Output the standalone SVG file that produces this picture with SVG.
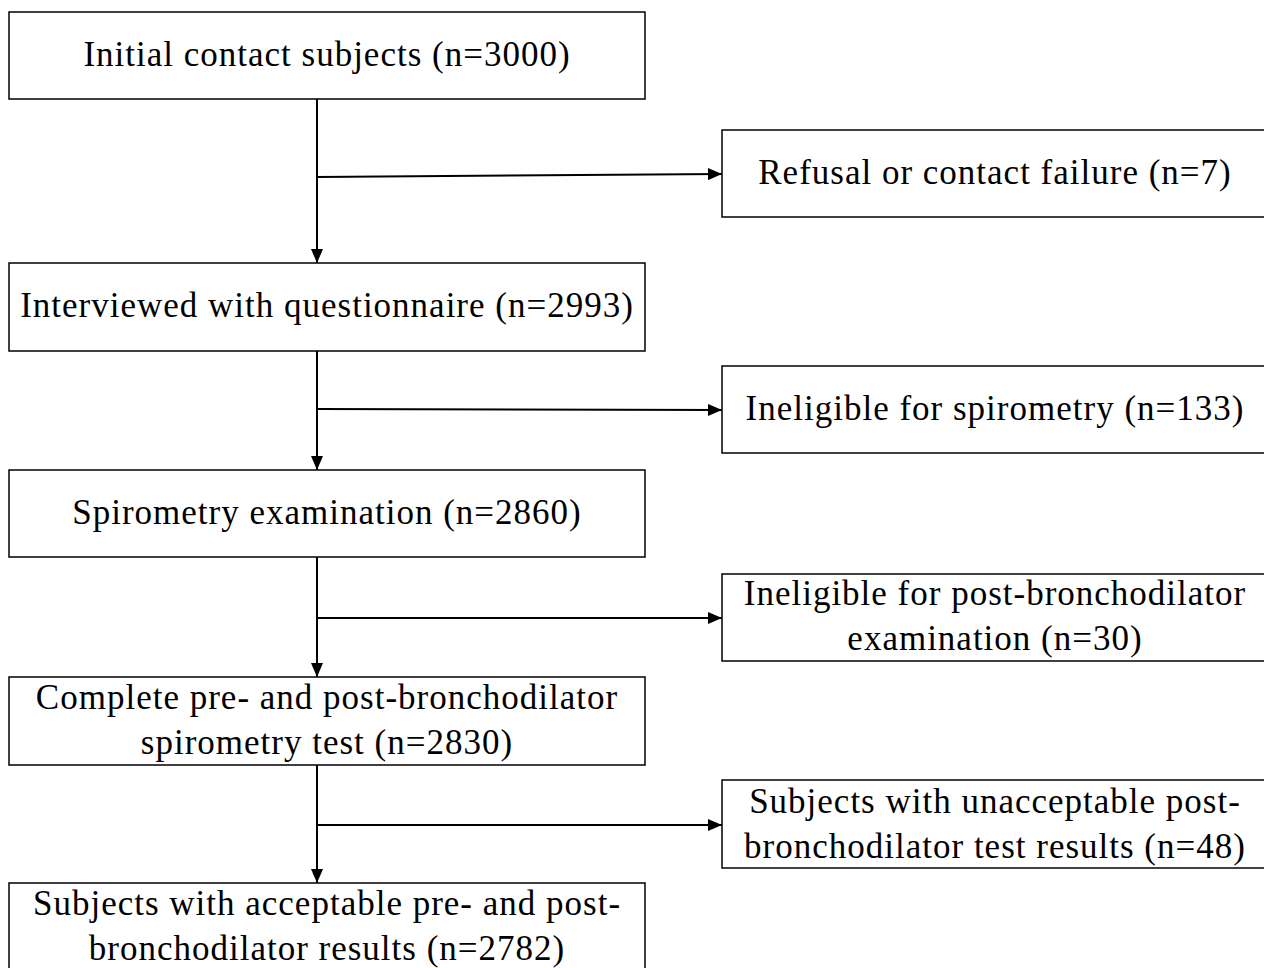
<svg xmlns="http://www.w3.org/2000/svg" width="1264" height="968" viewBox="0 0 1264 968">
<defs>
<marker id="ah" viewBox="0 0 14 12" refX="14" refY="6" markerWidth="14" markerHeight="12" markerUnits="userSpaceOnUse" orient="auto">
<path d="M0,0 L14,6 L0,12 Z" fill="#000"/>
</marker>
<style>
.box{fill:#fff;stroke:#000;stroke-width:1.5}
.t{font-family:"Liberation Serif","Times New Roman",serif;font-size:35px;letter-spacing:1px;fill:#000;text-anchor:middle}
.c{stroke:#000;stroke-width:2;fill:none}
</style>
</defs>
<rect width="1264" height="968" fill="#fff"/>
<g id="n1"><rect class="box" x="9" y="12" width="636" height="87"/><text class="t" x="327" y="66">Initial contact subjects (n=3000)</text></g>
<g id="n2"><rect class="box" x="9" y="263" width="636" height="88"/><text class="t" x="327" y="317">Interviewed with questionnaire (n=2993)</text></g>
<g id="n3"><rect class="box" x="9" y="470" width="636" height="87"/><text class="t" x="327" y="524">Spirometry examination (n=2860)</text></g>
<g id="n4"><rect class="box" x="9" y="677" width="636" height="88"/><text class="t" x="327" y="709">Complete pre- and post-bronchodilator</text><text class="t" x="327" y="754">spirometry test (n=2830)</text></g>
<g id="n5"><rect class="box" x="9" y="883" width="636" height="90"/><text class="t" x="327" y="915">Subjects with acceptable pre- and post-</text><text class="t" x="327" y="960">bronchodilator results (n=2782)</text></g>
<g id="r1"><rect class="box" x="722" y="130" width="545" height="87"/><text class="t" x="995" y="184">Refusal or contact failure (n=7)</text></g>
<g id="r2"><rect class="box" x="722" y="366" width="545" height="87"/><text class="t" x="995" y="420">Ineligible for spirometry (n=133)</text></g>
<g id="r3"><rect class="box" x="722" y="574" width="545" height="87"/><text class="t" x="995" y="605">Ineligible for post-bronchodilator</text><text class="t" x="995" y="650">examination (n=30)</text></g>
<g id="r4"><rect class="box" x="722" y="780" width="545" height="88"/><text class="t" x="995" y="813">Subjects with unacceptable post-</text><text class="t" x="995" y="858">bronchodilator test results (n=48)</text></g>
<g id="connectors">
<line class="c" x1="317" y1="99" x2="317" y2="263" marker-end="url(#ah)"/>
<line class="c" x1="317" y1="177" x2="722" y2="174" marker-end="url(#ah)"/>
<line class="c" x1="317" y1="351" x2="317" y2="470" marker-end="url(#ah)"/>
<line class="c" x1="317" y1="409" x2="722" y2="410" marker-end="url(#ah)"/>
<line class="c" x1="317" y1="557" x2="317" y2="677" marker-end="url(#ah)"/>
<line class="c" x1="317" y1="618" x2="722" y2="618" marker-end="url(#ah)"/>
<line class="c" x1="317" y1="765" x2="317" y2="883" marker-end="url(#ah)"/>
<line class="c" x1="317" y1="825" x2="722" y2="825" marker-end="url(#ah)"/>
</g>
</svg>
